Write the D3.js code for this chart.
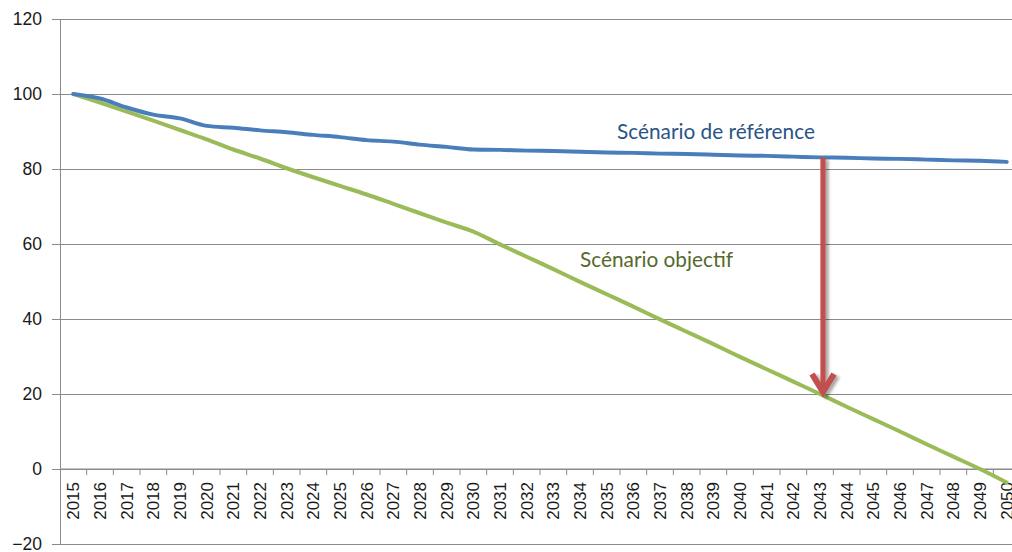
<!DOCTYPE html>
<html>
<head>
<meta charset="utf-8">
<script src="https://cdn.jsdelivr.net/npm/d3@7"></script>
<style>
  html, body { margin: 0; padding: 0; background: #fff; }
  svg { display: block; }
</style>
</head>
<body>
<div id="chart"></div>
<script>
var years = d3.range(2015, 2051).map(String);

var reference = [100, 98.8, 96.4, 94.5, 93.5, 91.5, 91.0, 90.3, 89.8, 89.1,
  88.5, 87.7, 87.3, 86.5, 85.9, 85.2, 85.1, 84.9, 84.8, 84.6,
  84.4, 84.3, 84.1, 84.0, 83.8, 83.6, 83.5, 83.3, 83.1, 83.0,
  82.8, 82.7, 82.5, 82.3, 82.2, 81.9];

var objective = [100, 97.7, 95.3, 92.9, 90.4, 87.9, 85.2, 82.8, 80.2, 77.8,
  75.5, 73.2, 70.7, 68.2, 65.7, 63.3, 59.9, 56.6, 53.3, 49.9,
  46.6, 43.3, 39.9, 36.6, 33.3, 29.9, 26.6, 23.3, 20.0, 16.6,
  13.3, 10.0, 6.6, 3.3, 0.0, -3.6];

var yTicks = [-20, 0, 20, 40, 60, 80, 100, 120];

var labelReference = "Scénario de référence";
var labelObjective = "Scénario objectif";
var arrowYear = "2043";

function ScenarioChart(params) {

  var attrs = Object.assign({
    container: '#chart',
    width: 1012,
    height: 552,
    margin: { top: 19, right: -8, bottom: 8, left: 60 },
    gridColor: '#8a8a8a',
    refColor: '#4a7ebb',
    objColor: '#9bbb59',
    arrowColor: '#c0504d'
  }, params);

  var svg = d3.select(attrs.container).append('svg')
    .attr('width', attrs.width)
    .attr('height', attrs.height);

  var defs = svg.append('defs');
  defs.append('filter')
    .attr('id', 'shadow')
    .attr('x', '-50%').attr('y', '-10%')
    .attr('width', '200%').attr('height', '120%')
    .append('feDropShadow')
    .attr('dx', 3).attr('dy', 2)
    .attr('stdDeviation', 1.8)
    .attr('flood-color', '#000')
    .attr('flood-opacity', 0.35);

  var left = attrs.margin.left,
    right = attrs.width - attrs.margin.right,
    top = attrs.margin.top,
    bottom = attrs.height - attrs.margin.bottom;

  var x = d3.scaleBand().domain(years).range([left, right]).padding(0);
  var y = d3.scaleLinear().domain([-20, 120]).range([bottom, top]);
  var cx = function (d) { return x(d) + x.bandwidth() / 2; };

  // horizontal gridlines
  svg.append('g')
    .attr('transform', 'translate(' + left + ',0)')
    .call(d3.axisLeft(y).tickValues(yTicks).tickSize(-(attrs.width - left)).tickFormat(''))
    .call(function (g) {
      g.select('.domain').remove();
      g.selectAll('line').attr('stroke', attrs.gridColor);
    });

  // y axis with labels
  svg.append('g')
    .attr('transform', 'translate(' + left + ',0)')
    .call(d3.axisLeft(y).tickValues(yTicks).tickSize(8).tickPadding(10).tickSizeOuter(0))
    .call(function (g) {
      g.select('.domain').attr('stroke', attrs.gridColor);
      g.selectAll('line').attr('stroke', attrs.gridColor);
      g.selectAll('text')
        .attr('fill', '#1a1a1a')
        .style('font-family', '"Liberation Sans", Arial, sans-serif')
        .style('font-size', '17.5px');
    });

  // x axis at zero
  var xAxis = svg.append('g')
    .attr('transform', 'translate(0,' + y(0) + ')');
  xAxis.append('line')
    .attr('x1', left).attr('x2', attrs.width)
    .attr('stroke', attrs.gridColor);
  xAxis.selectAll('.tick')
    .data(years.slice(1))
    .join('line')
    .attr('class', 'tick')
    .attr('x1', function (d) { return x(d); })
    .attr('x2', function (d) { return x(d); })
    .attr('y1', 0).attr('y2', 6)
    .attr('stroke', attrs.gridColor);
  xAxis.selectAll('text')
    .data(years)
    .join('text')
    .attr('transform', function (d) { return 'translate(' + cx(d) + ',13) rotate(-90)'; })
    .attr('dy', '0.35em')
    .attr('text-anchor', 'end')
    .attr('fill', '#1a1a1a')
    .style('font-family', '"Liberation Sans", Arial, sans-serif')
    .style('font-size', '17px')
    .text(function (d) { return d; });

  var line = d3.line()
    .x(function (d, i) { return cx(years[i]); })
    .y(function (d) { return y(d); })
    .curve(d3.curveMonotoneX);

  svg.append('path')
    .datum(objective)
    .attr('fill', 'none')
    .attr('stroke', attrs.objColor)
    .attr('stroke-width', 4)
    .attr('stroke-linejoin', 'round')
    .attr('stroke-linecap', 'round')
    .attr('d', line);

  svg.append('path')
    .datum(reference)
    .attr('fill', 'none')
    .attr('stroke', attrs.refColor)
    .attr('stroke-width', 4)
    .attr('stroke-linejoin', 'round')
    .attr('stroke-linecap', 'round')
    .attr('d', line);

  // arrow between the two scenarios
  var ai = years.indexOf(arrowYear);
  var ax = cx(arrowYear) + 3,
    ay1 = y(reference[ai]),
    ay2 = y(objective[ai]);
  var arrow = svg.append('g')
    .attr('filter', 'url(#shadow)')
    .attr('stroke', attrs.arrowColor)
    .attr('fill', 'none');
  arrow.append('line')
    .attr('x1', ax).attr('x2', ax)
    .attr('y1', ay1).attr('y2', ay2 - 4)
    .attr('stroke-width', 5.2);
  arrow.append('polyline')
    .attr('points', [[ax - 11, ay2 - 20], [ax, ay2 - 2], [ax + 11, ay2 - 20]].join(' '))
    .attr('stroke-width', 6)
    .attr('stroke-linejoin', 'miter');

  // series labels
  svg.append('text')
    .attr('x', 617).attr('y', 139)
    .attr('fill', '#2a5487')
    .style('font-family', 'Lato, sans-serif')
    .style('font-size', '20.8px')
    .text(labelReference);

  svg.append('text')
    .attr('x', 580).attr('y', 267)
    .attr('fill', '#56692c')
    .style('font-family', 'Lato, sans-serif')
    .style('font-size', '20.8px')
    .text(labelObjective);
}

ScenarioChart();
</script>
</body>
</html>
